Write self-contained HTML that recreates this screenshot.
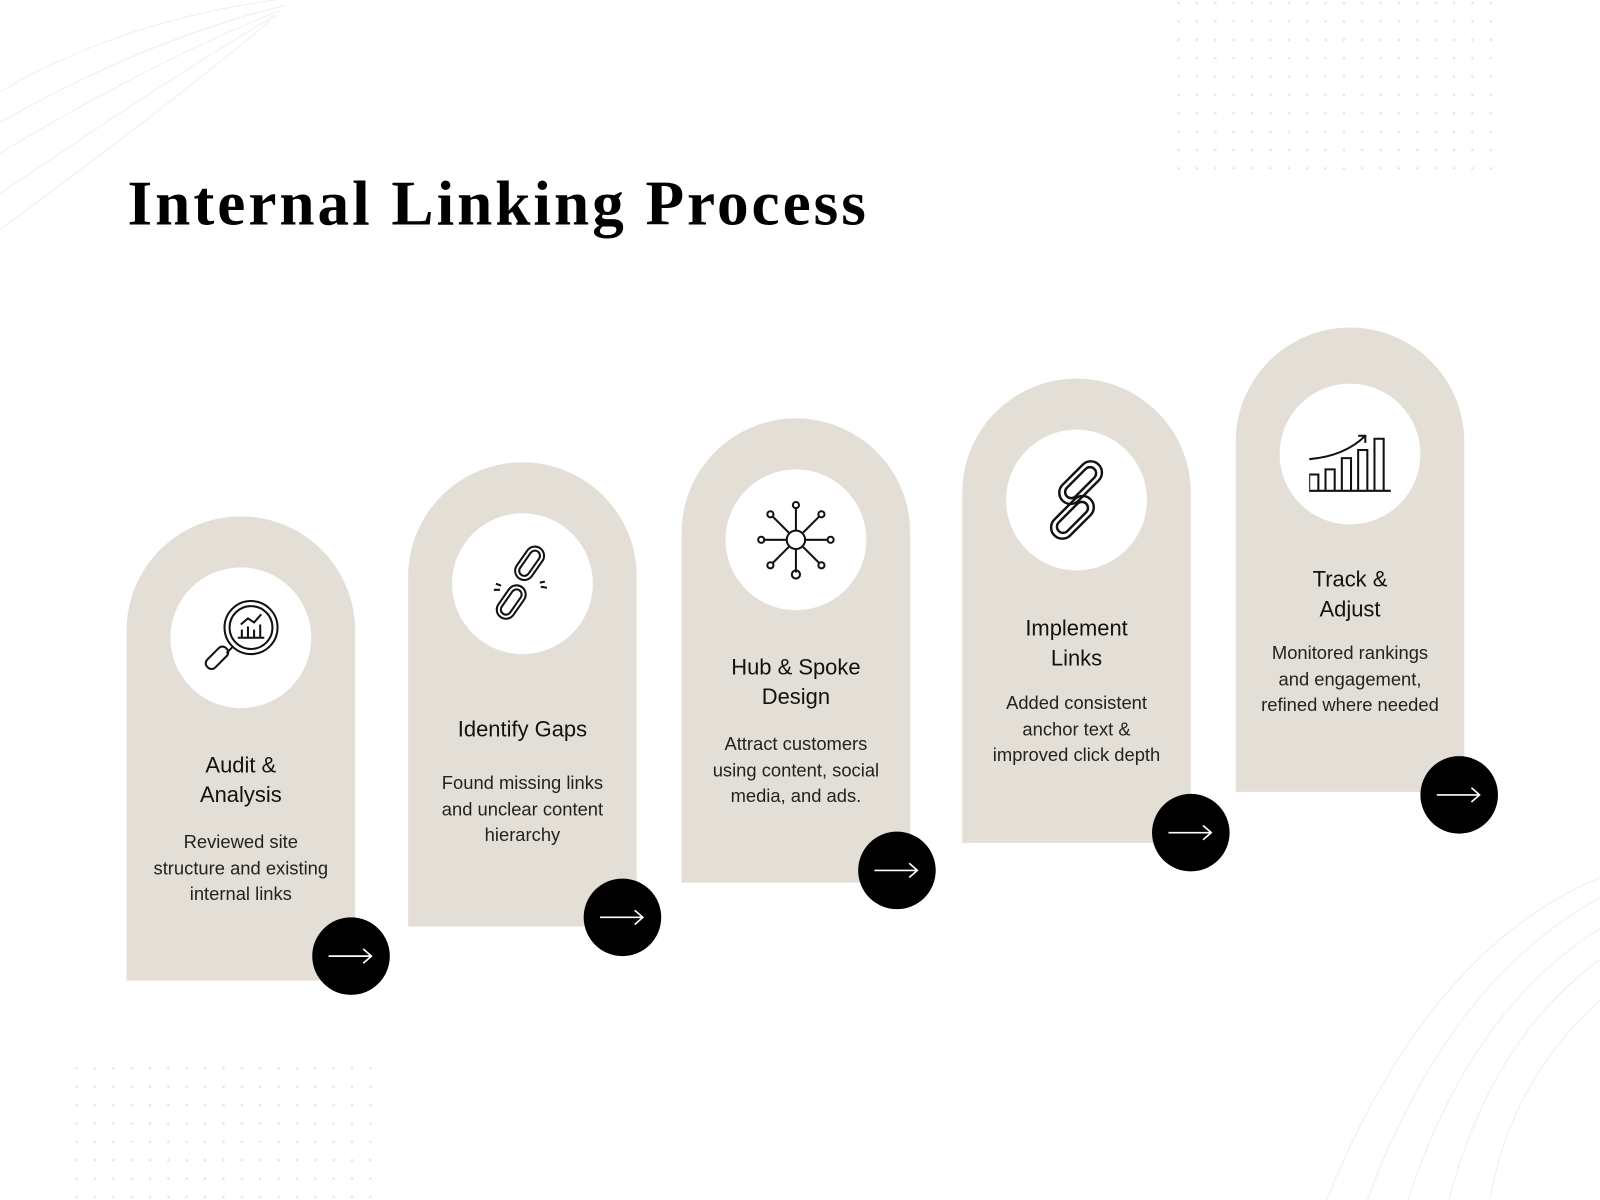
<!DOCTYPE html>
<html><head><meta charset="utf-8"><style>
html,body{margin:0;padding:0;width:1600px;height:1200px;overflow:hidden;background:#fff}
#w{position:absolute;left:0;top:0;width:1568px;height:1176px;transform:scale(1.020408);transform-origin:0 0;font-family:"Liberation Sans",sans-serif;color:#111}
h1{position:absolute;left:125px;top:165px;margin:0;font:bold 62px "Liberation Serif",serif;letter-spacing:2.9px;color:#000}
.card{position:absolute;width:224px;background:#e3dfd6;border-radius:112px 112px 0 0}
.circ{position:absolute;left:43px;top:50px;width:138px;height:138px;border-radius:50%;background:#fff}
.circ svg{position:absolute;left:29px;top:29px}
.t{position:absolute;left:0;width:224px;text-align:center;font-size:21.5px;line-height:29px;color:#111}
.d{position:absolute;left:0;width:224px;text-align:center;font-size:18px;line-height:25.5px;color:#222}
.btn{position:absolute;width:76px;height:76px;border-radius:50%;background:#000}
.btn svg{position:absolute;left:16px;top:26px}
</style></head><body><div id="w">
<svg width="1568" height="1176" style="position:absolute;left:0;top:0" fill="none" stroke="#eee" stroke-width="1">
<path d="M0 90 Q120 20 270 0"/><path d="M0 120 Q140 40 280 5"/><path d="M0 150 Q150 60 275 10"/><path d="M0 190 Q160 80 270 15"/><path d="M0 225 Q170 100 265 20"/>
<path d="M1568 860 Q1400 930 1300 1176"/><path d="M1568 880 Q1420 960 1340 1176"/><path d="M1568 910 Q1440 990 1380 1176"/><path d="M1568 940 Q1460 1020 1420 1176"/><path d="M1568 980 Q1480 1060 1460 1176"/>
<defs><pattern id="p" width="18" height="18" patternUnits="userSpaceOnUse"><circle cx="3" cy="3" r="1.3" fill="#e6e6e6" stroke="none"/></pattern></defs>
<rect x="1150" y="0" width="320" height="170" fill="url(#p)" stroke="none"/>
<rect x="60" y="1040" width="320" height="136" fill="url(#p)" stroke="none"/>
</svg>
<h1>Internal Linking Process</h1>

<div class="card" style="left:124px;top:506px;height:455px">
<div class="circ"><svg width="80" height="80" viewBox="0 0 80 80" fill="none" stroke="#111" stroke-width="2"><circle cx="50" cy="30" r="26"/><circle cx="50" cy="30" r="21"/><path d="M32 49 L26 55"/><rect x="4" y="54" width="26" height="11" rx="5" transform="rotate(-45 17 60)"/><path d="M37 40h26M41 40v-8M47 40v-11M53 40v-8M59 40v-13M40 27l7-6 6 4 7-8"/></svg></div>
<div class="t" style="top:230px">Audit &amp;<br>Analysis</div>
<div class="d" style="top:307px">Reviewed site<br>structure and existing<br>internal links</div>
</div>
<div class="btn" style="left:306px;top:899px"><svg width="44" height="24" viewBox="0 0 44 24" fill="none" stroke="#fff" stroke-width="1.6"><path d="M0 12h42M34 5l8 7-8 7"/></svg></div>

<div class="card" style="left:400px;top:453px;height:455px">
<div class="circ"><svg width="80" height="80" viewBox="0 0 80 80" fill="none" stroke="#111" stroke-width="2"><rect x="38" y="2" width="18" height="36" rx="9" transform="rotate(35 47 20)"/><rect x="42" y="6" width="10" height="28" rx="5" transform="rotate(35 47 20)"/><rect x="20" y="40" width="18" height="36" rx="9" transform="rotate(35 29 58)"/><rect x="24" y="44" width="10" height="28" rx="5" transform="rotate(35 29 58)"/><path d="M14 40l5 2M12 46l6 0M62 38l-5 1M64 44l-6-1"/></svg></div>
<div class="t" style="top:248px">Identify Gaps</div>
<div class="d" style="top:302px">Found missing links<br>and unclear content<br>hierarchy</div>
</div>
<div class="btn" style="left:572px;top:861px"><svg width="44" height="24" viewBox="0 0 44 24" fill="none" stroke="#fff" stroke-width="1.6"><path d="M0 12h42M34 5l8 7-8 7"/></svg></div>

<div class="card" style="left:668px;top:410px;height:455px">
<div class="circ"><svg width="80" height="80" viewBox="0 0 80 80" fill="none" stroke="#111" stroke-width="2"><circle cx="40" cy="40" r="9"/><path d="M40 31V8M40 49v23M31 40H8M49 40h23M33 33L17 17M47 47l16 16M47 33l16-16M33 47L17 63"/><circle cx="40" cy="6" r="3"/><circle cx="40" cy="74" r="4"/><circle cx="6" cy="40" r="3"/><circle cx="74" cy="40" r="3"/><circle cx="15" cy="15" r="3"/><circle cx="65" cy="65" r="3"/><circle cx="65" cy="15" r="3"/><circle cx="15" cy="65" r="3"/></svg></div>
<div class="t" style="top:230px">Hub &amp; Spoke<br>Design</div>
<div class="d" style="top:307px">Attract customers<br>using content, social<br>media, and ads.</div>
</div>
<div class="btn" style="left:841px;top:815px"><svg width="44" height="24" viewBox="0 0 44 24" fill="none" stroke="#fff" stroke-width="1.6"><path d="M0 12h42M34 5l8 7-8 7"/></svg></div>

<div class="card" style="left:943px;top:371px;height:455px">
<div class="circ"><svg width="80" height="80" viewBox="0 0 80 80" fill="none" stroke="#111" stroke-width="2.4"><rect x="33" y="-2" width="22" height="50" rx="11" transform="rotate(45 44 23)"/><rect x="38" y="4" width="12" height="38" rx="6" transform="rotate(45 44 23)"/><rect x="25" y="32" width="22" height="50" rx="11" transform="rotate(45 36 57)"/><rect x="30" y="38" width="12" height="38" rx="6" transform="rotate(45 36 57)"/></svg></div>
<div class="t" style="top:231px">Implement<br>Links</div>
<div class="d" style="top:306px">Added consistent<br>anchor text &amp;<br>improved click depth</div>
</div>
<div class="btn" style="left:1129px;top:778px"><svg width="44" height="24" viewBox="0 0 44 24" fill="none" stroke="#fff" stroke-width="1.6"><path d="M0 12h42M34 5l8 7-8 7"/></svg></div>

<div class="card" style="left:1211px;top:321px;height:455px">
<div class="circ" style="top:55px"><svg width="80" height="80" viewBox="0 0 80 80" fill="none" stroke="#111" stroke-width="2"><path d="M-1 76h84M0 68v-8h9v16h-9zM16 76V55h9v21M32 76V44h9v32M48 76V36h9v40M64 76V25h9v51M0 45Q35 42 55 22M48 22h7v7"/></svg></div>
<div class="t" style="top:233px">Track &amp;<br>Adjust</div>
<div class="d" style="top:307px">Monitored rankings<br>and engagement,<br>refined where needed</div>
</div>
<div class="btn" style="left:1392px;top:741px"><svg width="44" height="24" viewBox="0 0 44 24" fill="none" stroke="#fff" stroke-width="1.6"><path d="M0 12h42M34 5l8 7-8 7"/></svg></div>
</div></body></html>
